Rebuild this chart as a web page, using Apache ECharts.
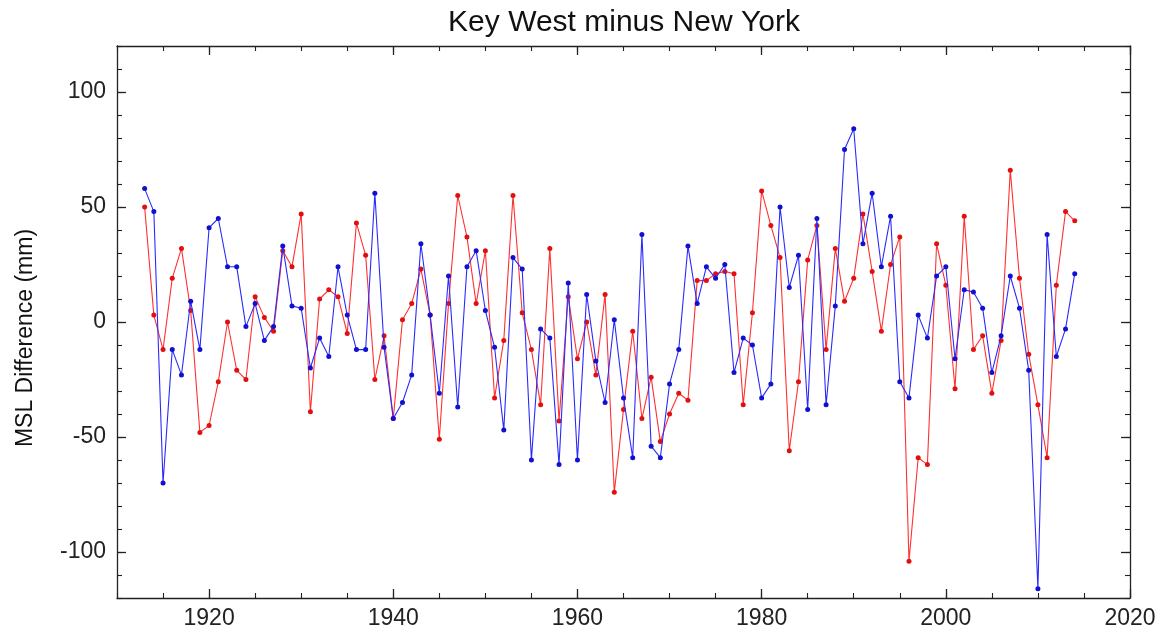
<!DOCTYPE html>
<html>
<head>
<meta charset="utf-8">
<script src="https://cdn.jsdelivr.net/npm/echarts@6/dist/echarts.min.js"></script>
<style>html,body{margin:0;padding:0;background:#fff}#c{width:1164px;height:641px}</style>
</head>
<body>
<div id="c"></div>
<script>
const years = [1913,1914,1915,1916,1917,1918,1919,1920,1921,1922,1923,1924,1925,1926,1927,1928,1929,1930,1931,1932,1933,1934,1935,1936,1937,1938,1939,1940,1941,1942,1943,1944,1945,1946,1947,1948,1949,1950,1951,1952,1953,1954,1955,1956,1957,1958,1959,1960,1961,1962,1963,1964,1965,1966,1967,1968,1969,1970,1971,1972,1973,1974,1975,1976,1977,1978,1979,1980,1981,1982,1983,1984,1985,1986,1987,1988,1989,1990,1991,1992,1993,1994,1995,1996,1997,1998,1999,2000,2001,2002,2003,2004,2005,2006,2007,2008,2009,2010,2011,2012,2013,2014];
const blueValues = [58,48,-70,-12,-23,9,-12,41,45,24,24,-2,8,-8,-2,33,7,6,-20,-7,-15,24,3,-12,-12,56,-11,-42,-35,-23,34,3,-31,20,-37,24,31,5,-11,-47,28,23,-60,-3,-7,-62,17,-60,12,-17,-35,1,-33,-59,38,-54,-59,-27,-12,33,8,24,19,25,-22,-7,-10,-33,-27,50,15,29,-38,45,-36,7,75,84,34,56,24,46,-26,-33,3,-7,20,24,-16,14,13,6,-22,-6,20,6,-21,-116,38,-15,-3,21];
const redValues = [50,3,-12,19,32,5,-48,-45,-26,0,-21,-25,11,2,-4,31,24,47,-39,10,14,11,-5,43,29,-25,-6,-42,1,8,23,3,-51,8,55,37,8,31,-33,-8,55,4,-12,-36,32,-43,11,-16,0,-23,12,-74,-38,-4,-42,-24,-52,-40,-31,-34,18,18,21,22,21,-36,4,57,42,28,-56,-26,27,42,-12,32,9,19,47,22,-4,25,37,-104,-59,-62,34,16,-29,46,-12,-6,-31,-8,66,19,-14,-36,-59,16,48,44];
const xMajorTicks = [1920,1940,1960,1980,2000,2020];
const yMajorTicks = [-100,-50,0,50,100];
const titleText = 'Key West minus New York';
const yName = 'MSL Difference (mm)';

const FONT = '"Liberation Sans", Arial, sans-serif';
const AX = '#222';
const gridRect = {left:117, right:34, top:46, bottom:43};
const lineAx = {show:true, onZero:false, lineStyle:{color:AX, width:1.3}};
const noLine = {show:false, onZero:false};
function pairs(v){ return years.map((y,i)=>[y, v[i]]); }
const plain = v => String(v);

const chart = echarts.init(document.getElementById('c'));
chart.setOption({
  backgroundColor:'#fff',
  animation:false,
  title:{text:titleText, left:619, textAlign:'center', top:3, textStyle:{fontFamily:FONT, fontSize:30, fontWeight:'normal', color:'#111'}},
  graphic:[{type:'text', x:26, y:338, rotation:Math.PI/2,
    style:{text:yName, font:'23px "Liberation Sans", Arial, sans-serif', fill:'#111', textAlign:'center', textVerticalAlign:'middle'}}],
  grid:[Object.assign({}, gridRect), Object.assign({}, gridRect)],
  xAxis:[
    {gridIndex:0, type:'value', position:'bottom', min:1910, max:2020, axisLine:lineAx,
     axisTick:{inside:true, length:9, customValues:xMajorTicks, lineStyle:{color:AX, width:1.3}},
     axisLabel:{customValues:xMajorTicks, formatter:plain, fontFamily:FONT, fontSize:23, color:'#222', margin:9},
     splitLine:{show:false}},
    {gridIndex:0, type:'value', position:'top', min:1910, max:2020, axisLine:lineAx,
     axisTick:{inside:true, length:9, customValues:xMajorTicks, lineStyle:{color:AX, width:1.3}},
     axisLabel:{show:false}, splitLine:{show:false}},
    {gridIndex:1, type:'value', position:'bottom', min:1910, max:2020, interval:5, axisLine:noLine,
     axisTick:{inside:true, length:5, lineStyle:{color:AX, width:1.1}}, axisLabel:{show:false}, splitLine:{show:false}},
    {gridIndex:1, type:'value', position:'top', min:1910, max:2020, interval:5, axisLine:noLine,
     axisTick:{inside:true, length:5, lineStyle:{color:AX, width:1.1}}, axisLabel:{show:false}, splitLine:{show:false}}
  ],
  yAxis:[
    {gridIndex:0, type:'value', position:'left', min:-120, max:120, axisLine:lineAx,
     axisTick:{inside:true, length:9, customValues:yMajorTicks, lineStyle:{color:AX, width:1.3}},
     axisLabel:{customValues:yMajorTicks, formatter:plain, fontFamily:FONT, fontSize:23, color:'#222', margin:11},
     splitLine:{show:false}},
    {gridIndex:0, type:'value', position:'right', min:-120, max:120, axisLine:lineAx,
     axisTick:{inside:true, length:9, customValues:yMajorTicks, lineStyle:{color:AX, width:1.3}},
     axisLabel:{show:false}, splitLine:{show:false}},
    {gridIndex:1, type:'value', position:'left', min:-120, max:120, interval:10, axisLine:noLine,
     axisTick:{inside:true, length:5, lineStyle:{color:AX, width:1.1}}, axisLabel:{show:false}, splitLine:{show:false}},
    {gridIndex:1, type:'value', position:'right', min:-120, max:120, interval:10, axisLine:noLine,
     axisTick:{inside:true, length:5, lineStyle:{color:AX, width:1.1}}, axisLabel:{show:false}, splitLine:{show:false}}
  ],
  series:[
    {type:'line', xAxisIndex:0, yAxisIndex:0, data:pairs(redValues), symbol:'circle', symbolSize:5,
     lineStyle:{color:'#ff3030', width:1.1}, itemStyle:{color:'#e01010'}, z:3},
    {type:'line', xAxisIndex:0, yAxisIndex:0, data:pairs(blueValues), symbol:'circle', symbolSize:5,
     lineStyle:{color:'#2a2aff', width:1.1}, itemStyle:{color:'#1010d0'}, z:4}
  ]
});
</script>
</body>
</html>
